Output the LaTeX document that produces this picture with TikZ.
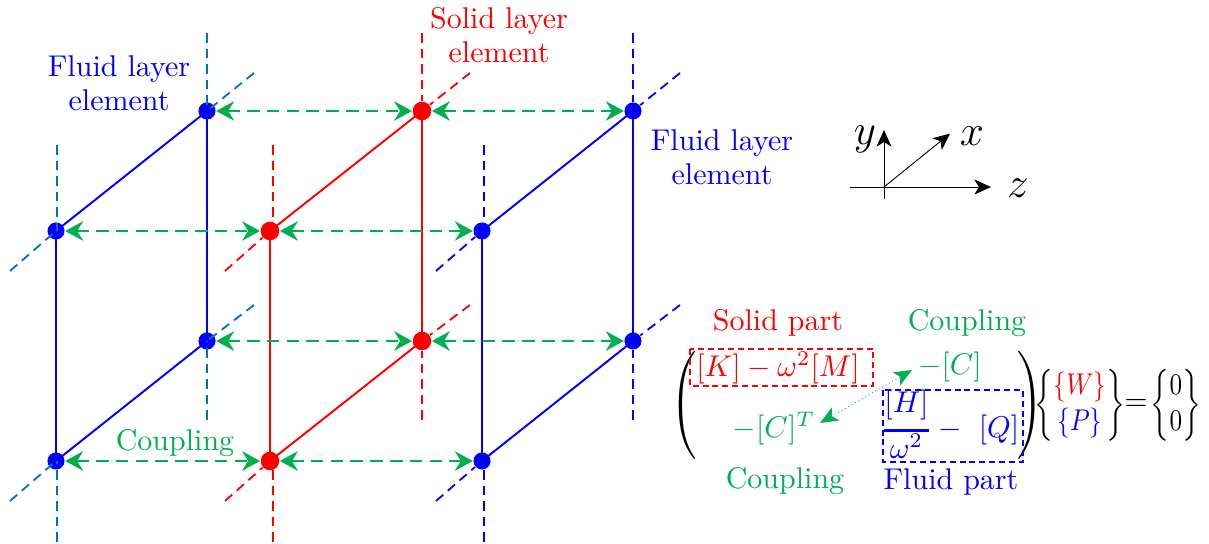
\documentclass[tikz,border=0pt]{standalone}
\usepackage{amsmath,amssymb}
\usetikzlibrary{arrows.meta,positioning}
\definecolor{cgreen}{RGB}{0,176,80}
\definecolor{dbl}{RGB}{0,114,189}
\newcommand{\nar}[1]{\scalebox{.84}[1]{#1}}
\begin{document}
\begin{tikzpicture}[x=1pt/3,y=-1pt/3,>=Stealth,
  bdot/.style={circle,fill=blue,inner sep=0pt,minimum size=5.7pt},
  rdot/.style={circle,fill=red,inner sep=0pt,minimum size=6.2pt},
  edge/.style={line width=0.65pt},
  ext/.style={line width=0.6pt,dash pattern=on 3.2pt off 2pt},
  coupl/.style={cgreen,line width=0.85pt,dash pattern=on 4.2pt off 2.4pt,{Stealth[length=6pt,width=6.5pt,inset=2pt]}-{Stealth[length=6pt,width=6.5pt,inset=2pt]}},
  axis/.style={line width=0.3pt,-{Stealth[length=5.5pt,width=5pt,inset=1.5pt]}},
  box/.style={line width=0.5pt,dash pattern=on 2pt off 1.3pt},
  lbl/.style={align=center,inner sep=0pt}]
\useasboundingbox (0,0) rectangle (1209,544);
% left fluid element
\node[bdot] (fa) at (207,111) {};
\node[bdot] (fb) at (56,231) {};
\node[bdot] (fc) at (207,341) {};
\node[bdot] (fd) at (56,461) {};
% solid element
\node[rdot] (sa) at (422,111) {};
\node[rdot] (sb) at (270,231) {};
\node[rdot] (sc) at (422,341) {};
\node[rdot] (sd) at (270,461) {};
% right fluid element
\node[bdot] (ga) at (633,111) {};
\node[bdot] (gb) at (482,231) {};
\node[bdot] (gc) at (633,341) {};
\node[bdot] (gd) at (482,461) {};
% free ends
\coordinate (fau) at (207,33);\coordinate (fad) at (254,73);
\coordinate (fbu) at (57,145);\coordinate (fbd) at (10,271);
\coordinate (fcu) at (207,420);\coordinate (fcd) at (254,305);
\coordinate (fdu) at (57,542);\coordinate (fdd) at (10,501);
\coordinate (sau) at (422,33);\coordinate (sad) at (470,73);
\coordinate (sbu) at (273,145);\coordinate (sbd) at (225,271);
\coordinate (scu) at (422,420);\coordinate (scd) at (470,305);
\coordinate (sdu) at (273,542);\coordinate (sdd) at (225,501);
\coordinate (gau) at (633,33);\coordinate (gad) at (680,73);
\coordinate (gbu) at (484,145);\coordinate (gbd) at (436,271);
\coordinate (gcu) at (633,420);\coordinate (gcd) at (680,305);
\coordinate (gdu) at (484,542);\coordinate (gdd) at (436,501);
\draw[edge,blue] (fb.center)--(fa.center);\draw[edge,blue] (fa.center)--(fc.center);\draw[edge,blue] (fb.center)--(fd.center);\draw[edge,blue] (fd.center)--(fc.center);
\draw[edge,red] (sb.center)--(sa.center);\draw[edge,red] (sa.center)--(sc.center);\draw[edge,red] (sb.center)--(sd.center);\draw[edge,red] (sd.center)--(sc.center);
\draw[edge,blue] (gb.center)--(ga.center);\draw[edge,blue] (ga.center)--(gc.center);\draw[edge,blue] (gb.center)--(gd.center);\draw[edge,blue] (gd.center)--(gc.center);
\draw[ext,dbl] (fau)--(fa.center);\draw[ext,dbl] (fad)--(fa.center);\draw[ext,dbl] (fbu)--(fbu|-fb);\draw[ext,dbl] (fbd)--(fb.center);
\draw[ext,dbl] (fcu)--(fc.center);\draw[ext,dbl] (fcd)--(fc.center);\draw[ext,dbl] (fdu)--(fdu|-fd);\draw[ext,dbl] (fdd)--(fd.center);
\draw[ext,red] (sau)--(sa);\draw[ext,red] (sad)--(sa);\draw[ext,red] (sbu)--(sbu|-sb);\draw[ext,red] (sbd)--(sb);
\draw[ext,red] (scu)--(sc);\draw[ext,red] (scd)--(sc);\draw[ext,red] (sdu)--(sdu|-sd);\draw[ext,red] (sdd)--(sd);
\draw[ext,blue] (gau)--(ga);\draw[ext,blue] (gad)--(ga);\draw[ext,blue] (gbu)--(gbu|-gb);\draw[ext,blue] (gbd)--(gb);
\draw[ext,blue] (gcu)--(gc);\draw[ext,blue] (gcd)--(gc);\draw[ext,blue] (gdu)--(gdu|-gd);\draw[ext,blue] (gdd)--(gd);
% couplings
\draw[coupl] (fa)--(sa);\draw[coupl] (sa)--(ga);
\draw[coupl] (fb)--(sb);\draw[coupl] (sb)--(gb);
\draw[coupl] (fc)--(sc);\draw[coupl] (sc)--(gc);
\draw[coupl] (fd)--(sd);\draw[coupl] (sd)--(gd);
% labels
\node[lbl,blue] (fl1) at (119,83) {Fluid layer\\[-.7pt]element};
\node[lbl,red] (sl) at (499,35) {Solid layer\\[-.7pt]element};
\node[lbl,blue] (fl2) at (722,157) {Fluid layer\\[-.7pt]element};
\node[lbl,cgreen] (c1) at (175,443) {Coupling};
% axes
\coordinate (o) at (884,187);\coordinate (zs) at (850,187);\coordinate (ys) at (884,199);
\node[inner sep=0pt] (ze) at (993,187) {};
\node[inner sep=0pt] (ye) at (884,128) {};
\node[inner sep=0pt] (xe) at (952,132) {};
\draw[axis] (zs)--(ze);\draw[axis] (ys)--(ye);\draw[axis] (o)--(xe);
\node[lbl,font=\Large] (yl) at (865,139) {$y$};
\node[lbl,font=\Large] (xl) at (972,136) {$x$};
\node[lbl,font=\Large] (zl) at (1018,188) {$z$};
% matrix
\node[lbl,red] (sp) at (778,323) {Solid part};
\node[lbl,cgreen] (c2) at (967,323) {Coupling};
\node[lbl,cgreen] (c3) at (785,481) {Coupling};
\node[lbl,blue] (fp) at (951,482) {Fluid part};
\node[lbl] (lp) at (685,405) {$\left(\rule{0pt}{20.5pt}\right.$};
\node[lbl] (rp) at (1029,405) {$\left.\rule{0pt}{20.5pt}\right)$};
\node[lbl,red] (kk) at (778,368) {$[K]-\omega^2[M]$};
\node[lbl,cgreen] (cc) at (950,367) {$-[C]$};
\node[lbl,cgreen] (ct) at (774,429) {$-[C]^T$};
\node[lbl,blue,anchor=base] (hq) at (950,438) {$\genfrac{}{}{1pt}{0}{[H]}{\smash{\omega^2}}-\ [Q]$};
\draw[box,red] (690,349) rectangle (873,386);
\draw[box,blue] (883,390) rectangle (1023,462);
\coordinate (da) at (912,370);\coordinate (db) at (820,423);
\draw[cgreen,line width=0.3pt,densely dotted,{Stealth[length=6pt,width=5pt,inset=1.5pt]}-{Stealth[length=6pt,width=5pt,inset=1.5pt]}] (db)--(da);
\node[lbl] (wp) at (1080,405) {\nar{$\left\{\begin{array}{@{}c@{}}\textcolor{red}{\{W\}}\\ \textcolor{blue}{\{P\}}\end{array}\right\}$}};
\node[lbl] (eq) at (1136,405) {$=$};
\node[lbl] (zz) at (1176,405) {\nar{$\left\{\begin{array}{@{}c@{}}0\\0\end{array}\right\}$}};
\end{tikzpicture}
\end{document}
